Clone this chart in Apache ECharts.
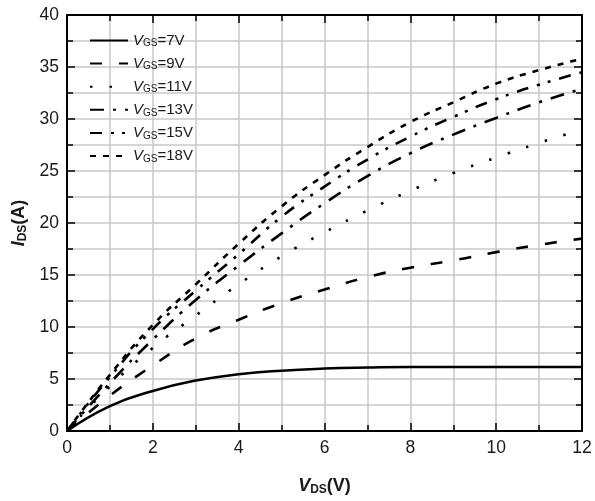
<!DOCTYPE html>
<html>
<head>
<meta charset="utf-8">
<script src="https://cdn.jsdelivr.net/npm/echarts@6/dist/echarts.min.js"></script>
<style>
  html, body { margin: 0; padding: 0; background: #fff; }
  #chart { width: 595px; height: 501px; }
</style>
</head>
<body>
<div id="chart"></div>
<script>
// Output characteristics: drain current vs drain-source voltage for several gate voltages
const vds = [0, 1, 2, 3, 4, 5, 6, 7, 8, 9, 10, 11, 12];

const ids7  = [0, 2.4, 3.85, 4.85, 5.45, 5.8, 6.0, 6.1, 6.15, 6.15, 6.15, 6.15, 6.15];
const ids9  = [0, 3.4, 6.3, 8.9, 10.7, 12.3, 13.6, 14.8, 15.7, 16.4, 17.2, 17.9, 18.5];
const ids11 = [0, 4.3, 8.0, 11.1, 14.1, 16.8, 19.1, 21.2, 23.1, 24.8, 26.3, 27.7, 29.0];
const ids13 = [0, 4.6, 8.8, 12.6, 15.9, 19.0, 21.9, 24.5, 26.7, 28.5, 30.1, 31.6, 32.9];
const ids15 = [0, 5.2, 9.8, 13.5, 17.0, 20.6, 23.5, 26.1, 28.3, 30.2, 31.9, 33.3, 34.5];
const ids18 = [0, 5.4, 10.2, 14.1, 18.0, 21.6, 24.6, 27.3, 29.7, 31.6, 33.4, 34.7, 35.8];

const gateLabels = ['7V', '9V', '11V', '13V', '15V', '18V'];
const currents = [ids7, ids9, ids11, ids13, ids15, ids18];

const xTicks = { min: 0, max: 12, step: 2 };
const yTicks = { min: 0, max: 40, step: 5 };

const dashes = [
  'solid',
  [12, 17],
  [2.5, 17],
  [14, 9, 3, 9],
  [12, 9, 3, 8, 3, 9],
  [6, 7]
];

const labelFont = 'Liberation Sans, Arial, sans-serif';
const ink = '#1a1a1a';

const series = gateLabels.map((g, i) => ({
  name: g,
  type: 'line',
  smooth: true,
  symbol: 'none',
  data: vds.map((v, k) => [v, currents[i][k]]),
  lineStyle: { color: '#000', width: i === 0 ? 2.5 : 2.6, type: dashes[i], cap: 'butt' },
  itemStyle: { color: '#000' }
}));

const chart = echarts.init(document.getElementById('chart'), null, { renderer: 'canvas' });

const gridColor = '#c9c9c9';

function frameAxis(extra) {
  return Object.assign({
    axisLine: { show: true, onZero: false, lineStyle: { color: '#000', width: 2 } },
    axisTick: { show: true, inside: true, length: 8, lineStyle: { color: '#000', width: 1.5 } },
    minorTick: { show: true, splitNumber: 2, length: 6, lineStyle: { color: '#000', width: 1.5 } }
  }, extra);
}

const titleRich = {
  a: { fontFamily: labelFont, fontSize: 18, fontWeight: 'bold', fontStyle: 'italic', color: ink },
  b: { fontFamily: labelFont, fontSize: 12, fontWeight: 'bold', color: ink, verticalAlign: 'bottom', padding: [7, 0, 0, 0] },
  c: { fontFamily: labelFont, fontSize: 18, fontWeight: 'bold', color: ink }
};

chart.setOption({
  animation: false,
  backgroundColor: '#fff',
  grid: { left: 67, right: 13, top: 15, bottom: 69, containLabel: false },
  legend: {
    orient: 'vertical',
    left: 84,
    top: 28,
    itemWidth: 38,
    itemHeight: 14,
    itemGap: 7.6,
    data: gateLabels,
    itemStyle: { opacity: 0 },
    formatter: (name) => '{v|V}{s|GS}{t|=' + name + '}',
    textStyle: {
      fontFamily: labelFont,
      color: ink,
      rich: {
        v: { fontFamily: labelFont, fontSize: 15, fontStyle: 'italic', color: ink },
        s: { fontFamily: labelFont, fontSize: 10, color: ink, verticalAlign: 'bottom', padding: [6, 0, 0, 0] },
        t: { fontFamily: labelFont, fontSize: 15, color: ink }
      }
    }
  },
  xAxis: [
    frameAxis({
      type: 'value',
      min: xTicks.min, max: xTicks.max, interval: xTicks.step,
      name: '{a|V}{b|DS}{c|(V)}',
      nameLocation: 'middle',
      nameGap: 46,
      nameTextStyle: { color: ink, rich: titleRich },
      axisLabel: { fontFamily: labelFont, fontSize: 17.5, color: ink, margin: 8 },
      splitLine: { show: true, lineStyle: { color: gridColor, width: 1.5 } },
      minorSplitLine: { show: true, lineStyle: { color: gridColor, width: 1.5 } }
    }),
    frameAxis({
      type: 'value', position: 'top',
      min: xTicks.min, max: xTicks.max, interval: xTicks.step,
      axisLabel: { show: false },
      splitLine: { show: false }
    })
  ],
  yAxis: [
    frameAxis({
      type: 'value',
      min: yTicks.min, max: yTicks.max, interval: yTicks.step,
      name: '{a|I}{b|DS}{c|(A)}',
      nameLocation: 'middle',
      nameRotate: 90,
      nameGap: 36,
      nameTextStyle: { color: ink, rich: titleRich },
      axisLabel: { fontFamily: labelFont, fontSize: 17.5, color: ink, margin: 8 },
      splitLine: { show: true, lineStyle: { color: gridColor, width: 1.5 } },
      minorSplitLine: { show: true, lineStyle: { color: gridColor, width: 1.5 } }
    }),
    frameAxis({
      type: 'value', position: 'right',
      min: yTicks.min, max: yTicks.max, interval: yTicks.step,
      axisLabel: { show: false },
      splitLine: { show: false }
    })
  ],
  series: series
});
</script>
</body>
</html>
